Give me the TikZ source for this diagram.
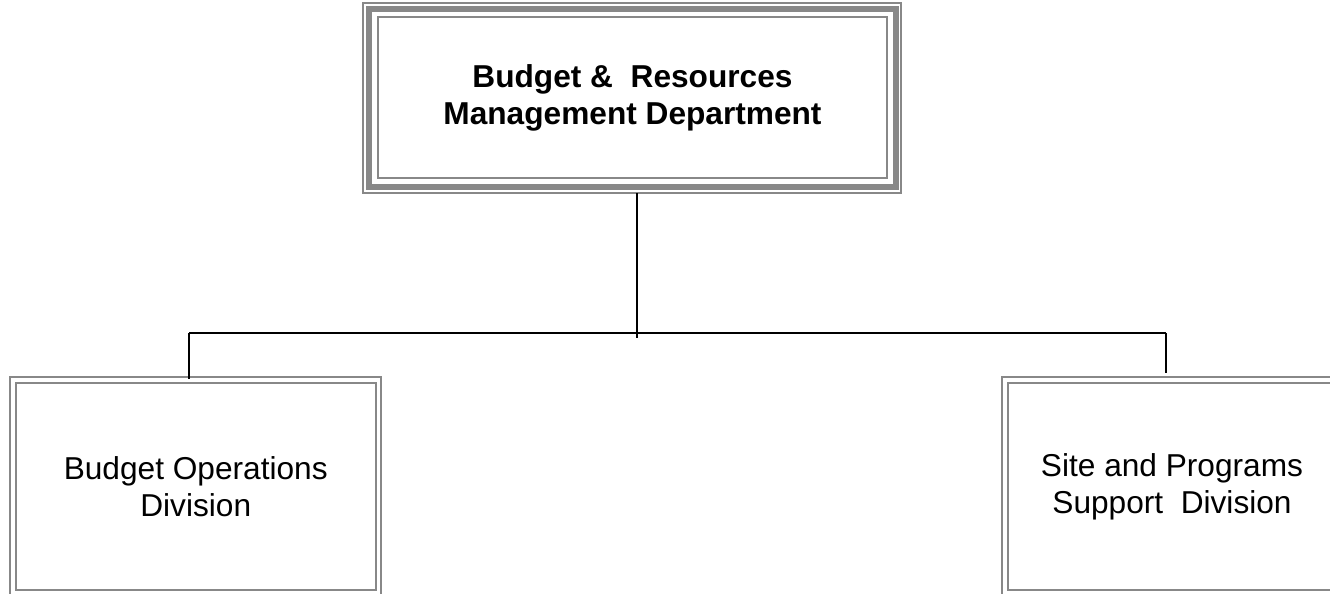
\documentclass[tikz,border=0pt]{standalone}
\usepackage{fontspec}
\setmainfont{Liberation Sans}
\usetikzlibrary{calc}
\definecolor{framegray}{RGB}{136,136,136}

\begin{document}
\begin{tikzpicture}[x=0.01cm,y=0.01cm,
    link/.style={black,line width=0.02cm},
    deptbox/.style={draw=framegray,line width=0.02cm,minimum width=5.09cm,minimum height=1.61cm,
        align=center,font=\fontsize{9}{10.5}\selectfont\bfseries},
    divbox/.style={draw=framegray,double=white,double distance=0.035cm,line width=0.02cm,
        minimum width=3.655cm,minimum height=2.13cm,align=center,font=\fontsize{9}{10.5}\selectfont}]
    \useasboundingbox (0,0) rectangle (1330,594);

    % Department box with its frames
    \node[deptbox] (brmd) at (632.5,496.5) {Budget \&~ Resources\\Management Department};
    \draw[framegray,line width=0.055cm] ($(brmd.south west)+(-8,-8)$) rectangle ($(brmd.north east)+(8,7)$);
    \draw[framegray,line width=0.02cm] ($(brmd.south west)+(-14,-14)$) rectangle ($(brmd.north east)+(13,13)$);

    % Divisions
    \node[divbox] (opsdiv) at (195.75,107.5) {Budget Operations\\Division};
    \node[divbox,minimum width=3.34cm] (sitediv) at (1172,107.5) {Site and Programs\\Support~ Division};

    % Connectors
    \coordinate (stub) at (637,256);
    \coordinate (busw) at (189,261);
    \coordinate (buse) at (1166,261);
    \draw[link,shorten <=0.14cm] (brmd.south -| stub) -- (stub);
    \draw[link] (busw) -- (buse);
    \draw[link] (busw) -- (opsdiv.north -| busw);
    \draw[link,shorten >=0.06cm] (buse) -- (sitediv.north -| buse);
\end{tikzpicture}
\end{document}
